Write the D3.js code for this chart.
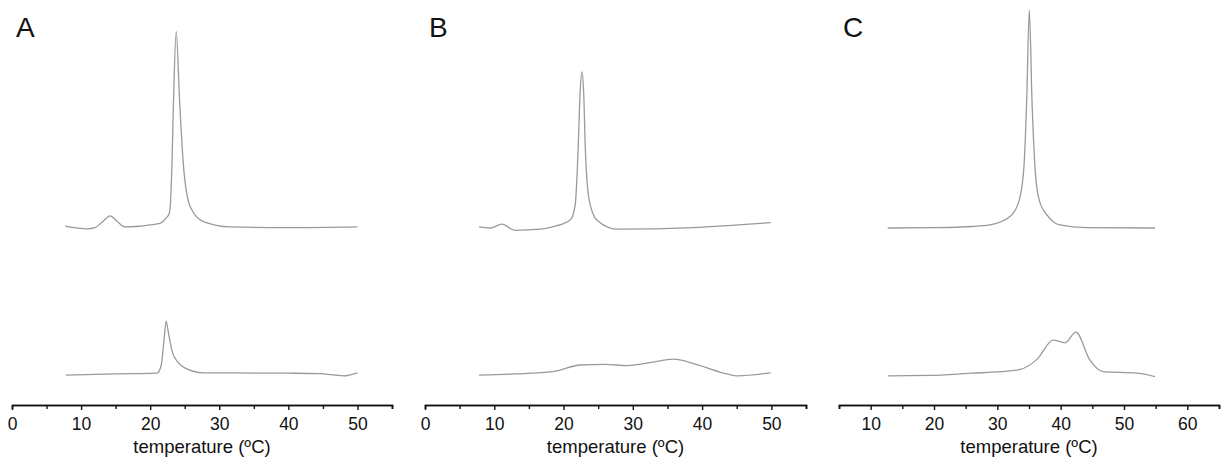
<!DOCTYPE html>
<html>
<head>
<meta charset="utf-8">
<script src="https://cdn.jsdelivr.net/npm/d3@7"></script>
<style>
  body { margin: 0; background: #fff; }
  svg { display: block; font-family: "Liberation Sans", Arial, sans-serif; }
  .trace { fill: none; stroke: #9a9a9a; stroke-width: 1.3; }
  .axis path, .axis line { stroke: #111; stroke-width: 1.4; }
  .axis text { font-size: 17.5px; fill: #111; font-family: "Liberation Sans", Arial, sans-serif; }
  .axisTitle { font-size: 18.5px; fill: #111; text-anchor: middle; }
  .panelLabel { font-size: 28px; fill: #111; }
</style>
</head>
<body>
<script>
var W = 1222;
var H = 458;

// panel letters and x-axis ticks
var panelNames = ['A', 'B', 'C'];
var xDomains = [[0, 55], [0, 55], [5, 65]];
var majorTicks = [
  [0, 10, 20, 30, 40, 50],
  [0, 10, 20, 30, 40, 50],
  [10, 20, 30, 40, 50, 60]
];
var minorTicks = [
  [5, 15, 25, 35, 45, 55],
  [5, 15, 25, 35, 45, 55],
  [5, 15, 25, 35, 45, 55, 65]
];
var axisTitle = 'temperature (ºC)';

// DSC traces (arbitrary heat flow units, upper trace shifted up)
var aTopT = [7.7, 10.9, 12.0, 13.2, 14.2, 15.2, 16.3, 18.0, 20.0, 21.5, 22.3, 22.8, 23.14, 23.38, 23.77, 24.25, 24.83, 25.8, 27.7, 31.6, 40, 50];
var aTopV = [42.6, 41.9, 42.2, 43.9, 45.3, 43.9, 42.4, 42.5, 42.9, 43.4, 44.7, 46.1, 58.2, 75.8, 93.8, 75.8, 58.2, 47.7, 43.8, 42.4, 42.2, 42.4];
var aBotT = [7.8, 15, 21.0, 21.6, 22.0, 22.3, 22.7, 23.2, 24.0, 25.0, 27.7, 40, 44.5, 48, 50];
var aBotV = [3.4, 3.7, 3.9, 6.05, 12.6, 17.6, 13.9, 9.5, 6.8, 5.3, 4.0, 3.9, 3.8, 3.2, 4.0];

var bTopT = [7.8, 9.4, 11.1, 13.0, 16.6, 18.8, 19.9, 21.1, 21.7, 22.1, 22.4, 22.65, 22.9, 23.15, 23.7, 24.8, 27.7, 38.7, 49.9];
var bTopV = [42.4, 42.1, 43.1, 41.5, 41.8, 42.6, 43.2, 44.5, 48.5, 62.6, 78.0, 83.2, 78.0, 62.6, 49.5, 44.2, 41.8, 42.2, 43.5];
var bBotT = [7.8, 13, 18.5, 22.4, 26, 29.2, 32.9, 35.8, 39.7, 43.6, 45.1, 49.9];
var bBotV = [3.4, 3.7, 4.3, 6.05, 6.2, 5.9, 6.8, 7.6, 5.9, 3.7, 3.2, 4.0];

var cTopT = [12.7, 20, 26, 28.8, 32.0, 33.47, 34.2, 34.64, 35.05, 35.47, 35.94, 36.6, 38.05, 39.9, 44, 54.9];
var cTopV = [42.1, 42.2, 42.5, 42.9, 45.1, 49.5, 58.2, 75.8, 99.5, 75.8, 58.2, 49.5, 45.1, 42.9, 42.2, 42.1];
var cBotT = [12.7, 19.3, 26, 30.5, 33.6, 36.3, 38.8, 40.7, 42.4, 44.6, 46.7, 52.1, 54.9];
var cBotV = [3.2, 3.3, 3.9, 4.3, 4.9, 7.6, 12.6, 11.9, 14.7, 7.4, 4.3, 3.9, 3.0];

var traces = [
  [[aTopT, aTopV], [aBotT, aBotV]],
  [[bTopT, bTopV], [bBotT, bBotV]],
  [[cTopT, cTopV], [cBotT, cBotV]]
];

var panelRanges = [[12, 392], [425, 806], [839, 1219]];
var axisY = 405;

var svg = d3.select('body').append('svg').attr('width', W).attr('height', H);

var yScale = d3.scaleLinear()
  .domain([0, 100])
  .range([388, 8]);

panelNames.forEach(function (name, i) {
  buildPanel(i);
});

function buildPanel(i) {
  var xScale = d3.scaleLinear()
    .domain(xDomains[i])
    .range(panelRanges[i]);

  var g = svg.append('g').attr('class', 'panel');

  /* ===== TRACES ===== */
  var line = d3.line()
    .x(function (d) { return xScale(d[0]); })
    .y(function (d) { return yScale(d[1]); })
    .curve(d3.curveMonotoneX);

  traces[i].forEach(function (tr) {
    var pts = tr[0].map(function (t, k) { return [t, tr[1][k]]; });
    g.append('path')
      .attr('class', 'trace')
      .attr('d', line(pts));
  });

  /* ===== AXIS ===== */
  var minorAxis = d3.axisBottom(xScale)
    .tickValues(minorTicks[i])
    .tickSize(4)
    .tickSizeOuter(4)
    .tickFormat('');

  var majorAxis = d3.axisBottom(xScale)
    .tickValues(majorTicks[i])
    .tickSize(5)
    .tickSizeOuter(4)
    .tickPadding(8)
    .tickFormat(d3.format('d'));

  g.append('g')
    .attr('class', 'axis')
    .attr('transform', 'translate(0,' + axisY + ')')
    .call(minorAxis);

  g.append('g')
    .attr('class', 'axis')
    .attr('transform', 'translate(0,' + axisY + ')')
    .call(majorAxis);

  var r = xScale.range();
  g.append('text')
    .attr('class', 'axisTitle')
    .attr('x', (r[0] + r[1]) / 2)
    .attr('y', 453)
    .text(axisTitle);

  g.append('text')
    .attr('class', 'panelLabel')
    .attr('x', r[0] + 4)
    .attr('y', 36.5)
    .text(panelNames[i]);
}
</script>
</body>
</html>
